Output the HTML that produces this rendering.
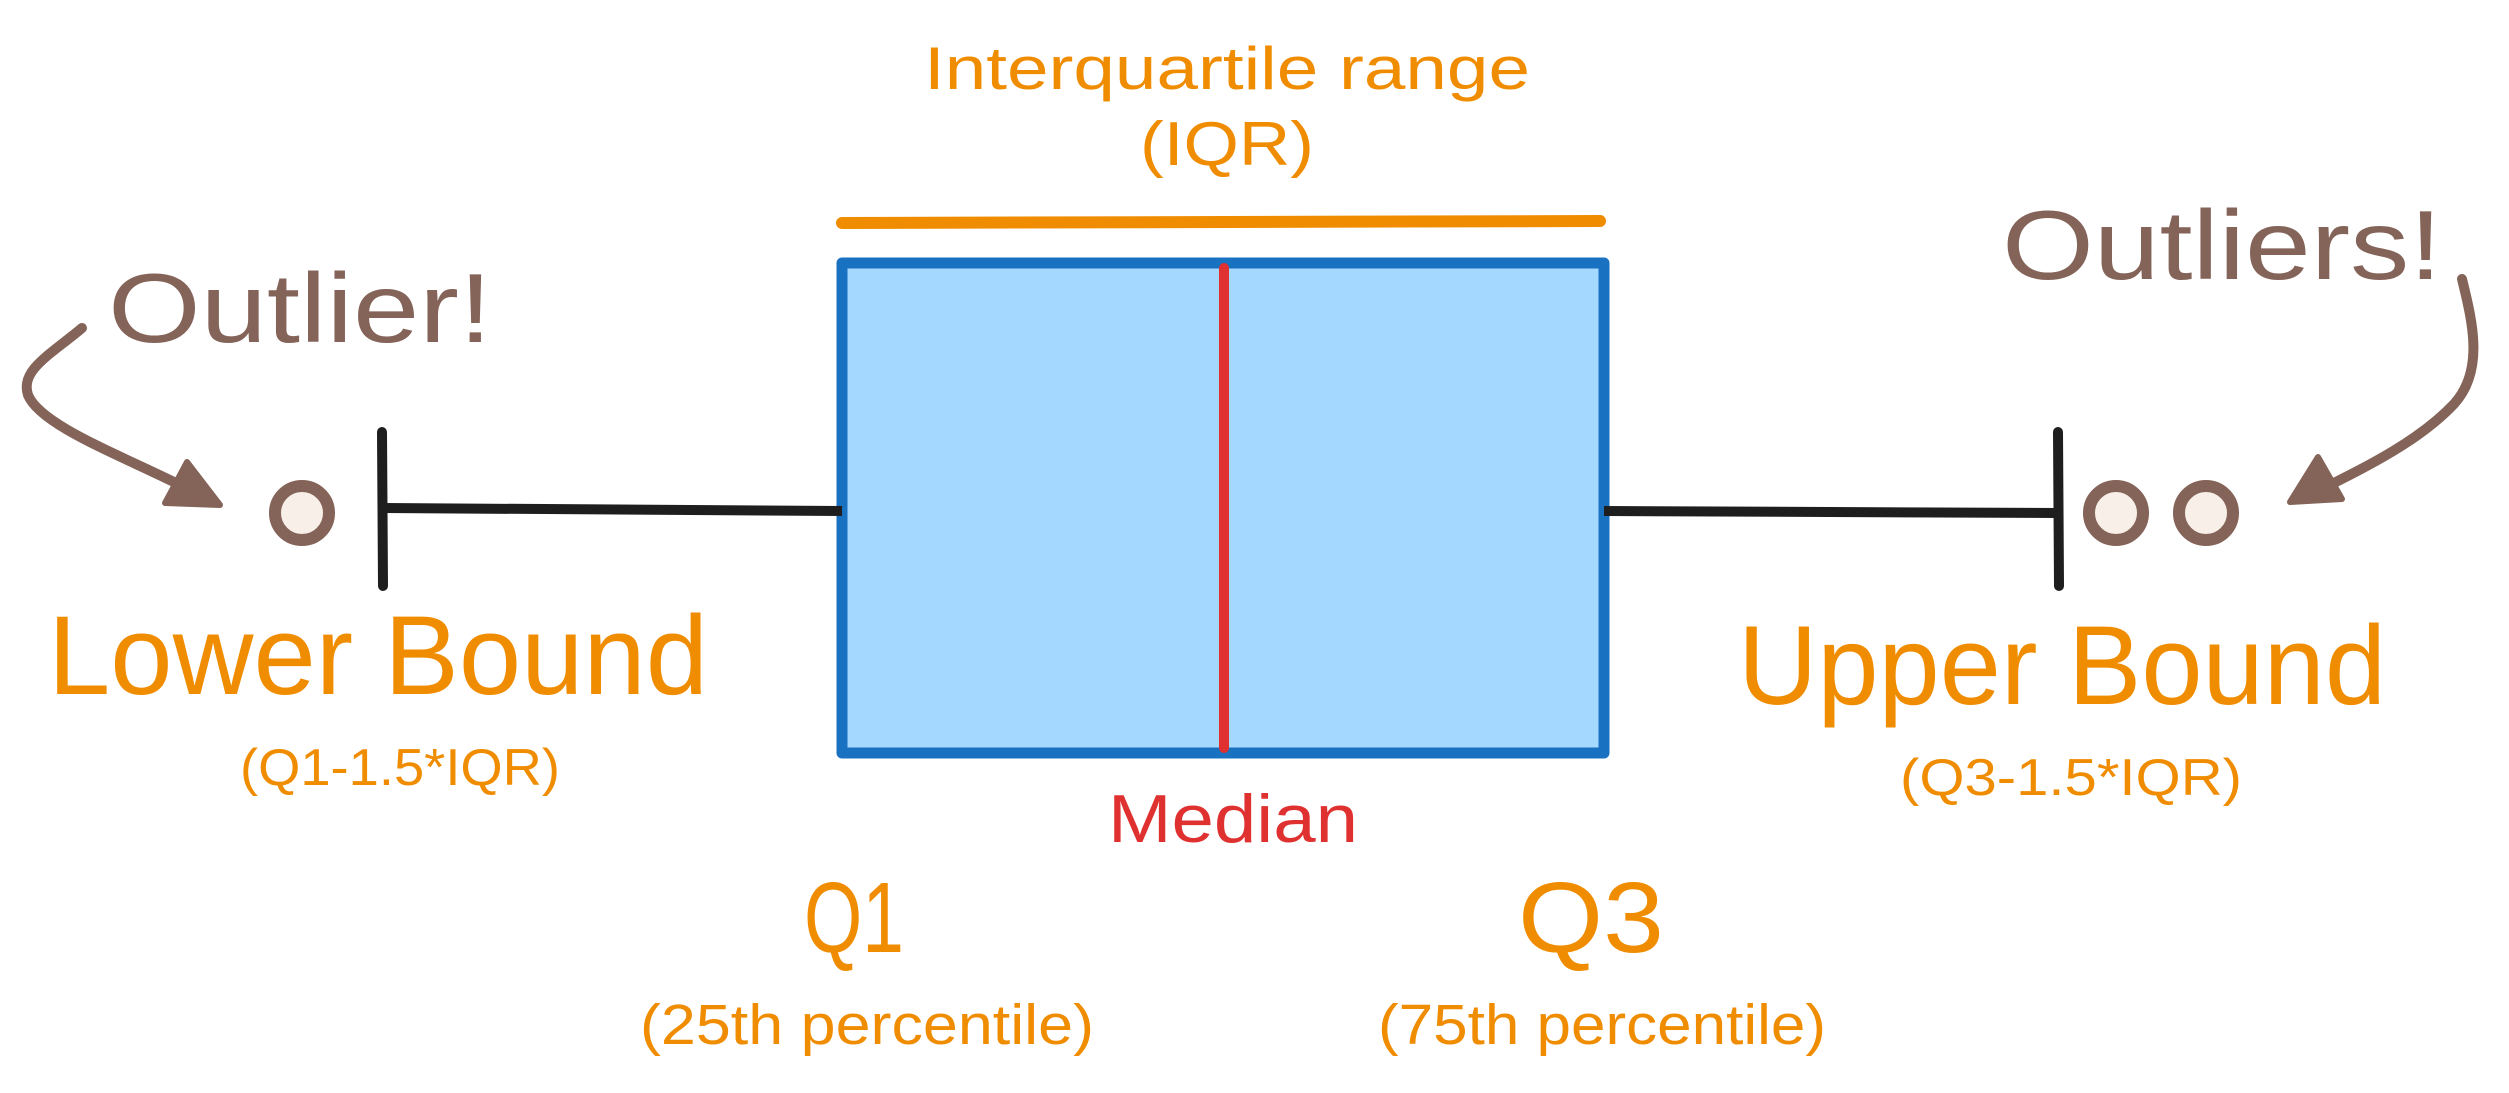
<!DOCTYPE html>
<html><head><meta charset="utf-8"><style>html,body{margin:0;padding:0;background:#fff}svg{display:block}</style></head><body>
<svg width="2509" height="1093" viewBox="0 0 2509 1093" xmlns="http://www.w3.org/2000/svg" font-family="Liberation Sans, sans-serif">
<rect width="2509" height="1093" fill="#fff"/>
<rect x="842" y="263" width="762" height="490" fill="#a5d8ff" stroke="#1971c2" stroke-width="11" stroke-linejoin="round"/>
<line x1="1224" y1="268" x2="1224" y2="748" stroke="#e03131" stroke-width="10" stroke-linecap="round"/>
<line x1="842" y1="223" x2="1600" y2="221" stroke="#f08c00" stroke-width="12" stroke-linecap="round"/>
<line x1="384" y1="508" x2="842" y2="511" stroke="#1e1e1e" stroke-width="10"/>
<line x1="382" y1="432" x2="383" y2="586" stroke="#1e1e1e" stroke-width="10" stroke-linecap="round"/>
<line x1="1604" y1="511" x2="2058" y2="513" stroke="#1e1e1e" stroke-width="10"/>
<line x1="2058" y1="432" x2="2059" y2="586" stroke="#1e1e1e" stroke-width="10" stroke-linecap="round"/>
<circle cx="302" cy="513" r="27" fill="#f8efe9" stroke="#846358" stroke-width="12"/>
<circle cx="2116" cy="513" r="27" fill="#f8efe9" stroke="#846358" stroke-width="12"/>
<circle cx="2206" cy="513" r="27" fill="#f8efe9" stroke="#846358" stroke-width="12"/>
<path d="M82,328 C50,355 20,370 28,395 C40,425 120,455 180,485" fill="none" stroke="#846358" stroke-width="10" stroke-linecap="round"/>
<polygon points="187,462 220,505 165,503" fill="#846358" stroke="#846358" stroke-width="6" stroke-linejoin="round"/>
<path d="M2462,279 C2472,320 2485,370 2454,404 C2420,440 2370,465 2320,490" fill="none" stroke="#846358" stroke-width="10" stroke-linecap="round"/>
<polygon points="2318,457 2342,499 2290,502" fill="#846358" stroke="#846358" stroke-width="6" stroke-linejoin="round"/>
<g fill="#846358">
<text x="108" y="342" font-size="98" textLength="384" lengthAdjust="spacingAndGlyphs">Outlier!</text>
<text x="2002" y="279" font-size="98" textLength="440" lengthAdjust="spacingAndGlyphs">Outliers!</text>
</g>
<g fill="#f08c00">
<text x="924" y="89" font-size="60" textLength="606" lengthAdjust="spacingAndGlyphs">Interquartile range</text>
<text x="1140" y="165" font-size="62" textLength="174" lengthAdjust="spacingAndGlyphs">(IQR)</text>
<text x="48" y="694" font-size="112" textLength="660" lengthAdjust="spacingAndGlyphs">Lower Bound</text>
<text x="240" y="785" font-size="52" textLength="320" lengthAdjust="spacingAndGlyphs">(Q1-1.5*IQR)</text>
<text x="1738" y="704" font-size="112" textLength="648" lengthAdjust="spacingAndGlyphs">Upper Bound</text>
<text x="1900" y="795" font-size="52" textLength="342" lengthAdjust="spacingAndGlyphs">(Q3-1.5*IQR)</text>
<text x="804" y="952" font-size="100" textLength="100" lengthAdjust="spacingAndGlyphs">Q1</text>
<text x="1518" y="952" font-size="100" textLength="146" lengthAdjust="spacingAndGlyphs">Q3</text>
<text x="640" y="1044" font-size="57" textLength="454" lengthAdjust="spacingAndGlyphs">(25th percentile)</text>
<text x="1378" y="1044" font-size="57" textLength="448" lengthAdjust="spacingAndGlyphs">(75th percentile)</text>
</g>
<text x="1108" y="842" font-size="68" fill="#e03131" textLength="250" lengthAdjust="spacingAndGlyphs">Median</text>
</svg>
</body></html>
